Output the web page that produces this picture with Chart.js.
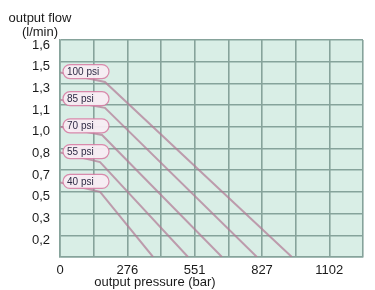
<!DOCTYPE html>
<html>
<head>
<meta charset="utf-8">
<script src="https://cdn.jsdelivr.net/npm/chart.js@4"></script>
<style>
  body { margin: 0; background: #fff; }
  #wrap { position: relative; width: 375px; height: 290px; }
  .t { position: absolute; font-family: "Liberation Sans", Arial, sans-serif; color: #1a1a1a; font-size: 13px; line-height: 14px; text-align: center; }
</style>
</head>
<body>
<div id="wrap">
  <canvas id="grafica" width="375" height="290"></canvas>
  <div class="t" style="left:0;top:11px;width:80px;">output flow<br>(l/min)</div>
  <div class="t" style="left:55px;top:275px;width:200px;">output pressure (bar)</div>
</div>
<script>
// pressure (bar) and flow (l/min) for each air pressure line
const seriesNames = ["100 psi", "85 psi", "70 psi", "55 psi", "40 psi"];
const pressure100 = [0, 184, 949];
const flow100 = [1.36, 1.29, 0];
const pressure85 = [0, 184, 806];
const flow85 = [1.16, 1.10, 0];
const pressure70 = [0, 172, 663];
const flow70 = [0.96, 0.90, 0];
const pressure55 = [0, 164, 524];
const flow55 = [0.77, 0.70, 0];
const pressure40 = [0, 164, 381];
const flow40 = [0.55, 0.48, 0];

const xTicks = [0, 137.8, 275.6, 413.4, 551.2, 689, 826.8, 964.6, 1102.4, 1240.2];
const xLabels = ["0", "", "276", "", "551", "", "827", "", "1102", ""];
const yTicks = [0, 0.16, 0.32, 0.48, 0.64, 0.8, 0.96, 1.12, 1.28, 1.44, 1.6];
const yLabels = ["", "0,2", "0,3", "0,5", "0,7", "0,8", "1,0", "1,1", "1,3", "1,5", "1,6"];

const allX = [pressure100, pressure85, pressure70, pressure55, pressure40];
const allY = [flow100, flow85, flow70, flow55, flow40];

let datasets = [];
for (let i = 0; i < seriesNames.length; i++) {
    datasets.push({
        label: seriesNames[i],
        data: allX[i].map((x, j) => ({ x: x, y: allY[i][j] })),
        borderColor: "rgba(178,124,150,0.72)",
        borderWidth: 2,
        pointRadius: 0,
        tension: 0
    });
}

// mint background of the plot
const fondo = {
    id: "fondo",
    beforeDraw(chart) {
        const a = chart.chartArea;
        const ctx = chart.ctx;
        ctx.save();
        ctx.fillStyle = "#d9eee6";
        ctx.fillRect(a.left, a.top, a.right - a.left, a.bottom - a.top);
        ctx.restore();
    }
};

// the little "xx psi" tags at the start of each line
const etiquetas = {
    id: "etiquetas",
    afterDatasetsDraw(chart) {
        const ctx = chart.ctx;
        ctx.save();
        ctx.font = "10px 'Liberation Sans', Arial, sans-serif";
        ctx.textBaseline = "middle";
        ctx.textAlign = "left";
        chart.data.datasets.forEach((ds, i) => {
            const p = chart.getDatasetMeta(i).data[0];
            const x = chart.chartArea.left + 3;
            const y = p.y - 1;
            const w = 46, h = 14;
            ctx.beginPath();
            ctx.roundRect(x, y - h / 2, w, h, 7);
            ctx.fillStyle = "rgba(248,236,243,0.95)";
            ctx.fill();
            ctx.strokeStyle = "rgba(214,120,160,0.85)";
            ctx.lineWidth = 1.2;
            ctx.stroke();
            ctx.fillStyle = "#2e2a44";
            ctx.fillText(ds.label, x + 4, y + 0.5);
        });
        ctx.restore();
    }
};

const graph = document.getElementById("grafica");
const myChart = new Chart(graph, {
    type: "line",
    data: { datasets: datasets },
    options: {
        responsive: false,
        animation: false,
        layout: { padding: { top: 40, right: 12, left: 0, bottom: 0 } },
        plugins: { legend: { display: false }, tooltip: { enabled: false } },
        scales: {
            x: {
                type: "linear",
                min: 0,
                max: 1240.2,
                afterBuildTicks: (s) => { s.ticks = xTicks.map(v => ({ value: v })); },
                afterFit: (s) => { s.height = 33; },
                grid: { color: "#86a39b", lineWidth: 1.6, drawTicks: false },
                border: { color: "#86a39b", width: 1.6 },
                ticks: {
                    autoSkip: false,
                    maxRotation: 0,
                    padding: 6,
                    color: "#1a1a1a",
                    font: { family: "'Liberation Sans', Arial, sans-serif", size: 13 },
                    callback: (v, i) => xLabels[i]
                }
            },
            y: {
                type: "linear",
                min: 0,
                max: 1.6,
                afterBuildTicks: (s) => { s.ticks = yTicks.map(v => ({ value: v })); },
                afterFit: (s) => { s.width = 60; },
                grid: { color: "#86a39b", lineWidth: 1.6, drawTicks: false },
                border: { color: "#86a39b", width: 1.6 },
                ticks: {
                    padding: 10,
                    labelOffset: 5,
                    color: "#1a1a1a",
                    font: { family: "'Liberation Sans', Arial, sans-serif", size: 13 },
                    callback: (v, i) => yLabels[i]
                }
            }
        }
    },
    plugins: [fondo, etiquetas]
});
</script>
</body>
</html>
